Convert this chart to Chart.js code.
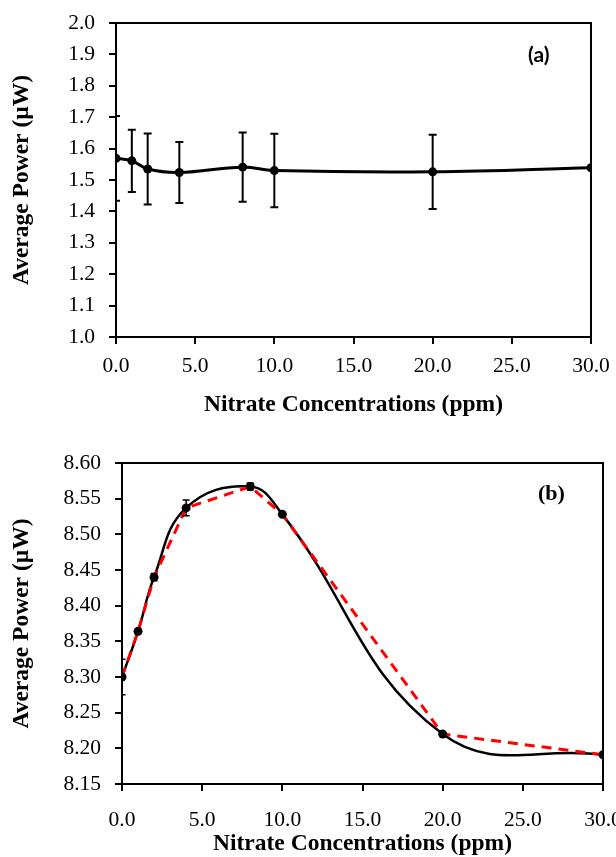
<!DOCTYPE html>
<html><head><meta charset="utf-8">
<script src="https://cdn.jsdelivr.net/npm/chart.js@4.4.1/dist/chart.umd.min.js"></script>
<style>
html,body{margin:0;padding:0;background:#fff;width:616px;height:857px;overflow:hidden}
#wrapA{position:absolute;left:0;top:0;width:616px;height:430px}
#wrapB{position:absolute;left:0;top:430px;width:616px;height:427px}
.tag{position:absolute;color:#000;font-weight:bold;line-height:1}
#tagA{left:528px;top:43px;font-family:Lato,"Open Sans",sans-serif;font-size:21px}
#tagB{left:538px;top:482px;font-family:"Liberation Serif",serif;font-size:22px}
</style></head><body>
<div id="wrapA"><canvas id="cA" width="616" height="430"></canvas></div>
<div id="wrapB"><canvas id="cB" width="616" height="427"></canvas></div>
<div class="tag" id="tagA">(a)</div>
<div class="tag" id="tagB">(b)</div>
<script>
// ---- data ----
const concentrations = [0, 1, 2, 4, 8, 10, 20, 30];
const powerA = [1.569, 1.561, 1.535, 1.524, 1.541, 1.530, 1.526, 1.539];
const errorA = [0.135, 0.099, 0.113, 0.097, 0.110, 0.117, 0.118, 0];
const powerB = [8.300, 8.364, 8.440, 8.537, 8.567, 8.528, 8.220, 8.191];
const errorB = [0.025, 0.003, 0.005, 0.011, 0.005, 0.002, 0.002, 0.002];
const xTicks = [0, 5, 10, 15, 20, 25, 30];
const yTicksA = [1.0, 1.1, 1.2, 1.3, 1.4, 1.5, 1.6, 1.7, 1.8, 1.9, 2.0];
const yTicksB = [8.15, 8.20, 8.25, 8.30, 8.35, 8.40, 8.45, 8.50, 8.55, 8.60];
const xTitle = 'Nitrate Concentrations (ppm)';
const yTitle = 'Average Power (\u00b5W)';

const SERIF = '"Liberation Serif","Times New Roman",serif';

const errorBarPlugin = {
  id: 'errorBars',
  afterDatasetsDraw(chart, args, opts) {
    const {ctx, chartArea: a} = chart;
    const xs = chart.scales.x, ys = chart.scales.y;
    ctx.save();
    ctx.beginPath();
    ctx.rect(a.left, a.top, a.right - a.left, a.bottom - a.top);
    ctx.clip();
    ctx.strokeStyle = '#000';
    ctx.lineWidth = opts.lineWidth;
    concentrations.forEach((c, i) => {
      const e = opts.errors[i];
      if (!e) return;
      const px = xs.getPixelForValue(c);
      const t = ys.getPixelForValue(opts.values[i] + e);
      const b = ys.getPixelForValue(opts.values[i] - e);
      ctx.beginPath();
      ctx.moveTo(px, t); ctx.lineTo(px, b);
      ctx.moveTo(px - opts.cap, t); ctx.lineTo(px + opts.cap, t);
      ctx.moveTo(px - opts.cap, b); ctx.lineTo(px + opts.cap, b);
      ctx.stroke();
    });
    ctx.restore();
  }
};

const framePlugin = {
  id: 'frame',
  beforeDatasetsDraw(chart) {
    const {ctx, chartArea: a} = chart;
    ctx.save();
    ctx.strokeStyle = '#000';
    ctx.lineWidth = 2;
    ctx.strokeRect(a.left, a.top, a.right - a.left, a.bottom - a.top);
    ctx.restore();
  }
};

function makeScales(cfg) {
  return {
    x: {
      type: 'linear', min: 0, max: 30,
      afterBuildTicks: s => { s.ticks = xTicks.map(v => ({value: v})); },
      afterFit: s => { s.height = cfg.xHeight; s.paddingLeft = 0; s.paddingRight = 0; },
      ticks: {callback: v => Number(v).toFixed(1), font: {family: SERIF, size: 21.5}, color: '#000',
              padding: cfg.xTickPad, maxRotation: 0, autoSkip: false},
      grid: {drawOnChartArea: false, drawTicks: true, tickLength: 7, color: '#000', lineWidth: 2},
      border: {display: true, color: '#000', width: 2},
      title: {display: true, text: xTitle, color: '#000',
              font: {family: SERIF, size: 23.5, weight: 'bold', lineHeight: 1},
              padding: {top: 0, bottom: cfg.xTitlePad}}
    },
    y: {
      type: 'linear', min: cfg.yMin, max: cfg.yMax,
      afterBuildTicks: s => { s.ticks = cfg.yTicks.map(v => ({value: v})); },
      afterFit: s => { s.width = cfg.yWidth; s.paddingTop = 0; s.paddingBottom = 0; },
      ticks: {callback: v => Number(v).toFixed(cfg.dec), font: {family: SERIF, size: 21.5}, color: '#000',
              padding: 14, autoSkip: false},
      grid: {drawOnChartArea: false, drawTicks: true, tickLength: 7, color: '#000', lineWidth: 2},
      border: {display: true, color: '#000', width: 2},
      title: {display: true, text: yTitle, color: '#000',
              font: {family: SERIF, size: 23.5, weight: 'bold', lineHeight: 1},
              padding: {top: 10, bottom: 0}}
    }
  };
}

const pts = arr => concentrations.map((c, i) => ({x: c, y: arr[i]}));

new Chart(document.getElementById('cA'), {
  type: 'line',
  data: {
    datasets: [{
      data: pts(powerA), borderColor: '#000', backgroundColor: '#000', borderWidth: 3,
      tension: 0.4, pointRadius: 4.5, pointHoverRadius: 4.5, pointBackgroundColor: '#000',
      pointBorderWidth: 0, fill: false
    }]
  },
  options: {
    responsive: false, animation: false, events: [],
    layout: {padding: {left: 0, right: 25, top: 23, bottom: 0}},
    plugins: {legend: {display: false}, tooltip: {enabled: false},
              errorBars: {values: powerA, errors: errorA, lineWidth: 2, cap: 4}},
    scales: makeScales({xHeight: 93, xTickPad: 9, xTitlePad: 13, yMin: 1.0, yMax: 2.0,
                        yTicks: yTicksA, dec: 1, yWidth: 116})
  },
  plugins: [framePlugin, errorBarPlugin]
});

new Chart(document.getElementById('cB'), {
  type: 'line',
  data: {
    datasets: [
      {data: pts(powerB), borderColor: '#000', borderWidth: 2.5, tension: 0.42,
       pointRadius: 0, fill: false, order: 3},
      {data: pts(powerB), borderColor: '#ff0000', borderWidth: 3, borderDash: [10, 7], tension: 0,
       pointRadius: 0, fill: false, order: 2},
      {data: pts(powerB), showLine: false, pointRadius: 4.5, pointBackgroundColor: '#000',
       pointBorderWidth: 0, borderColor: '#000', order: 1}
    ]
  },
  options: {
    responsive: false, animation: false, events: [],
    layout: {padding: {left: 0, right: 13, top: 33, bottom: 0}},
    plugins: {legend: {display: false}, tooltip: {enabled: false},
              errorBars: {values: powerB, errors: errorB, lineWidth: 1.5, cap: 3.5}},
    scales: makeScales({xHeight: 73, xTickPad: 16, xTitlePad: 1, yMin: 8.15, yMax: 8.60,
                        yTicks: yTicksB, dec: 2, yWidth: 122})
  },
  plugins: [framePlugin, errorBarPlugin]
});
</script>
</body></html>
